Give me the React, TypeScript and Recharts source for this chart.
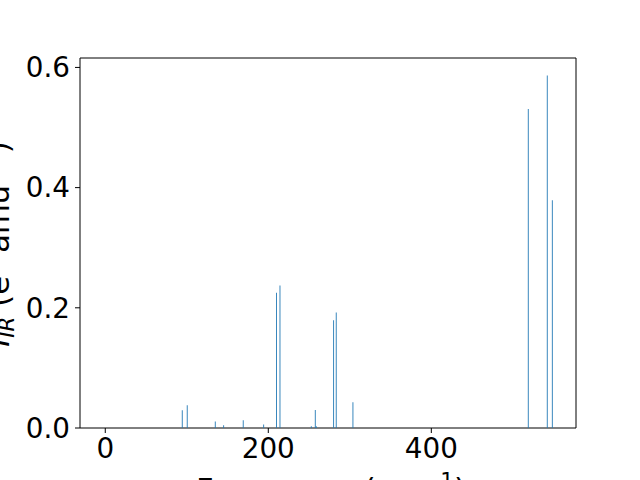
import React from "react";
import { BarChart, Bar, XAxis, YAxis, ReferenceArea } from "recharts";

const frequencies = [94.5, 100.6, 135.0, 145.3, 169.3, 194.4, 210.1, 214.4, 252.8, 257.7, 258.9, 280.2, 283.4, 303.9, 519.0, 542.3, 548.5];
const intensities = [0.0295, 0.038, 0.011, 0.0045, 0.013, 0.006, 0.225, 0.237, 0.003, 0.030, 0.003, 0.1795, 0.192, 0.043, 0.531, 0.5864, 0.379];
const xTicks = [0, 200, 400];
const yTicks = [0, 0.2, 0.4, 0.6];
const xDomain = [-31, 577.5];
const yDomain = [0, 0.6157];

const data = frequencies.map((f, i) => ({ freq: f, ir: intensities[i] }));

const FONT = "DejaVu Sans";
const FS = 27.8;
const LFS = 30.6;

const XLabel = () => (
  <text x={331} y={499.5} textAnchor="middle" fontFamily={FONT} fontSize={LFS} fill="#000">
    Frequency (cm<tspan dy={-12} fontSize={LFS * 0.7}>−1</tspan>
    <tspan dy={12}>)</tspan>
  </text>
);

const YLabel = () => (
  <text
    x={0}
    y={0}
    transform="translate(8.5,244) rotate(-90)"
    textAnchor="middle"
    fontFamily={FONT}
    fontSize={LFS}
    fill="#000"
  >
    <tspan fontStyle="italic">I</tspan>
    <tspan fontStyle="italic" fontSize={LFS * 0.7} dy={5}>IR</tspan>
    <tspan dy={-5}> (e</tspan>
    <tspan dy={-12} fontSize={LFS * 0.7}>2</tspan>
    <tspan dy={12}> amu</tspan>
    <tspan dy={-12} fontSize={LFS * 0.7}>−1</tspan>
    <tspan dy={12}>)</tspan>
  </text>
);

export default function App() {
  return (
    <div style={{ position: "absolute", left: 0, top: 0, width: 640, height: 480, background: "#fff" }}>
      <BarChart
        width={640}
        height={480}
        data={data}
        margin={{ top: 58, right: 64, bottom: 22, left: 0 }}
      >
        <XAxis
          dataKey="freq"
          type="number"
          domain={xDomain}
          ticks={xTicks}
          allowDataOverflow
          height={30}
          tickSize={5}
          tickMargin={5}
          axisLine={false}
          tickLine={{ stroke: "#000", strokeWidth: 1 }}
          tick={{ fontFamily: FONT, fontSize: FS, fill: "#000" }}
          label={{ content: XLabel }}
        />
        <YAxis
          type="number"
          domain={yDomain}
          ticks={yTicks}
          allowDataOverflow
          width={80}
          tickSize={5}
          tickMargin={5}
          axisLine={false}
          tickLine={{ stroke: "#000", strokeWidth: 1 }}
          tick={{ fontFamily: FONT, fontSize: FS, fill: "#000" }}
          tickFormatter={(v: number) => v.toFixed(1)}
          label={{ content: YLabel }}
        />
        <Bar dataKey="ir" fill="#1f77b4" barSize={1.8} isAnimationActive={false} />
        <ReferenceArea
          x1={xDomain[0]}
          x2={xDomain[1]}
          y1={yDomain[0]}
          y2={yDomain[1]}
          fill="none"
          fillOpacity={0}
          stroke="#000"
          strokeWidth={1}
          ifOverflow="visible"
        />
      </BarChart>
    </div>
  );
}
